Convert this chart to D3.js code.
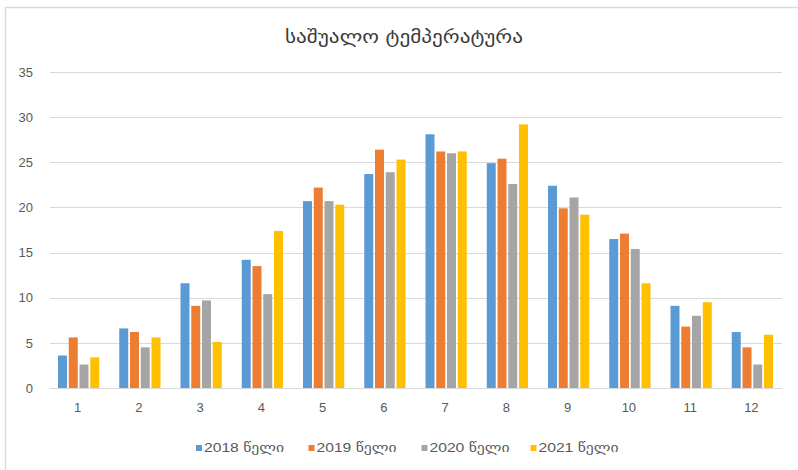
<!DOCTYPE html>
<html>
<head>
<meta charset="utf-8">
<script src="https://cdn.jsdelivr.net/npm/d3@7"></script>
<style>
  html, body { margin: 0; padding: 0; background: #fff; }
  svg { display: block; font-family: "DejaVu Sans", "Noto Sans", sans-serif; }
</style>
</head>
<body>
<svg id="chart" width="798" height="470"></svg>
<script>
// Average monthly temperature, four years
const months = ["1", "2", "3", "4", "5", "6", "7", "8", "9", "10", "11", "12"];
const seriesNames = ["2018 წელი", "2019 წელი", "2020 წელი", "2021 წელი"];
const temps2018 = [3.6, 6.6, 11.6, 14.2, 20.7, 23.7, 28.1, 24.9, 22.4, 16.5, 9.1, 6.2];
const temps2019 = [5.6, 6.2, 9.1, 13.5, 22.2, 26.4, 26.2, 25.4, 19.9, 17.1, 6.8, 4.5];
const temps2020 = [2.6, 4.5, 9.7, 10.4, 20.7, 23.9, 26.0, 22.6, 21.1, 15.4, 8.0, 2.6];
const temps2021 = [3.4, 5.6, 5.1, 17.4, 20.3, 25.3, 26.2, 29.2, 19.2, 11.6, 9.5, 5.9];
const yTicks = [0, 5, 10, 15, 20, 25, 30, 35];
const colors = ["#5b9bd5", "#ed7d31", "#a5a5a5", "#ffc000"];
const titleText = "საშუალო ტემპერატურა";

const series = [temps2018, temps2019, temps2020, temps2021];

const svg = d3.select("#chart");
const W = 798, H = 470;
const plot = { left: 48, right: 783, top: 72, bottom: 388 };

// chart area frame (only top and left edges fall inside the view)
svg.append("rect")
  .attr("x", 5.5).attr("y", 7.5)
  .attr("width", W + 10).attr("height", H + 10)
  .attr("fill", "#fff")
  .attr("stroke", "#d9d9d9")
  .attr("stroke-width", 1.5);

const x = d3.scaleBand()
  .domain(months)
  .range([plot.left, plot.right])
  .paddingInner(0).paddingOuter(0);

const x1 = d3.scaleBand()
  .domain(d3.range(series.length))
  .range([0, x.bandwidth()])
  .paddingInner(0.165)
  .paddingOuter(0.93);

const y = d3.scaleLinear()
  .domain([0, 35])
  .range([plot.bottom, plot.top]);

// horizontal gridlines
svg.append("g")
  .selectAll("line")
  .data(yTicks.filter(d => d > 0))
  .join("line")
  .attr("x1", plot.left + 2).attr("x2", plot.right - 1)
  .attr("y1", d => Math.round(y(d)) + 0.5)
  .attr("y2", d => Math.round(y(d)) + 0.5)
  .attr("stroke", "#d9d9d9")
  .attr("stroke-width", 1);

// y axis labels
const yAxis = d3.axisLeft(y).tickValues(yTicks).tickSize(0).tickPadding(0);
const gy = svg.append("g")
  .attr("transform", `translate(${plot.left - 15},0)`)
  .call(yAxis);
gy.select(".domain").remove();
gy.selectAll("text")
  .attr("fill", "#595959")
  .attr("font-size", 13)
  .attr("font-family", "Liberation Sans, Arial, sans-serif")
  .attr("text-anchor", "end");

// bars
const groups = svg.append("g")
  .selectAll("g")
  .data(months)
  .join("g")
  .attr("transform", d => `translate(${x(d)},0)`);

groups.selectAll("rect")
  .data((m, i) => series.map((s, k) => ({ k, v: s[i] })))
  .join("rect")
  .attr("x", d => x1(d.k))
  .attr("width", x1.bandwidth())
  .attr("y", d => y(d.v))
  .attr("height", d => y(0) - y(d.v))
  .attr("fill", d => colors[d.k]);

// baseline
svg.append("line")
  .attr("x1", plot.left + 2).attr("x2", plot.right - 1)
  .attr("y1", plot.bottom + 0.5).attr("y2", plot.bottom + 0.5)
  .attr("stroke", "#d9d9d9");

// x axis labels
const xAxis = d3.axisBottom(x).tickSize(0).tickPadding(0);
const gx = svg.append("g")
  .attr("transform", `translate(-1,${plot.bottom + 15})`)
  .call(xAxis);
gx.select(".domain").remove();
gx.selectAll("text")
  .attr("fill", "#595959")
  .attr("font-size", 13)
  .attr("font-family", "Liberation Sans, Arial, sans-serif")
  .attr("dy", "0.71em");

// title
svg.append("text")
  .attr("x", 404).attr("y", 43)
  .attr("text-anchor", "middle")
  .attr("fill", "#3a3a3a")
  .attr("font-size", 18)
  .attr("textLength", 238)
  .attr("lengthAdjust", "spacingAndGlyphs")
  .text(titleText);

// legend
const legendX = [196, 308.5, 421.5, 530.5];
const legend = svg.append("g")
  .selectAll("g")
  .data(seriesNames)
  .join("g")
  .attr("transform", (d, i) => `translate(${legendX[i]},448)`);
legend.append("rect")
  .attr("x", 0).attr("y", -3)
  .attr("width", 6).attr("height", 6)
  .attr("fill", (d, i) => colors[i]);
legend.append("text")
  .attr("x", 8).attr("y", 0)
  .attr("dy", "0.35em")
  .attr("fill", "#595959")
  .attr("font-size", 12.5)
  .attr("font-family", "Liberation Sans, DejaVu Sans, sans-serif")
  .attr("textLength", 80)
  .attr("lengthAdjust", "spacingAndGlyphs")
  .text(d => d);
</script>
</body>
</html>
